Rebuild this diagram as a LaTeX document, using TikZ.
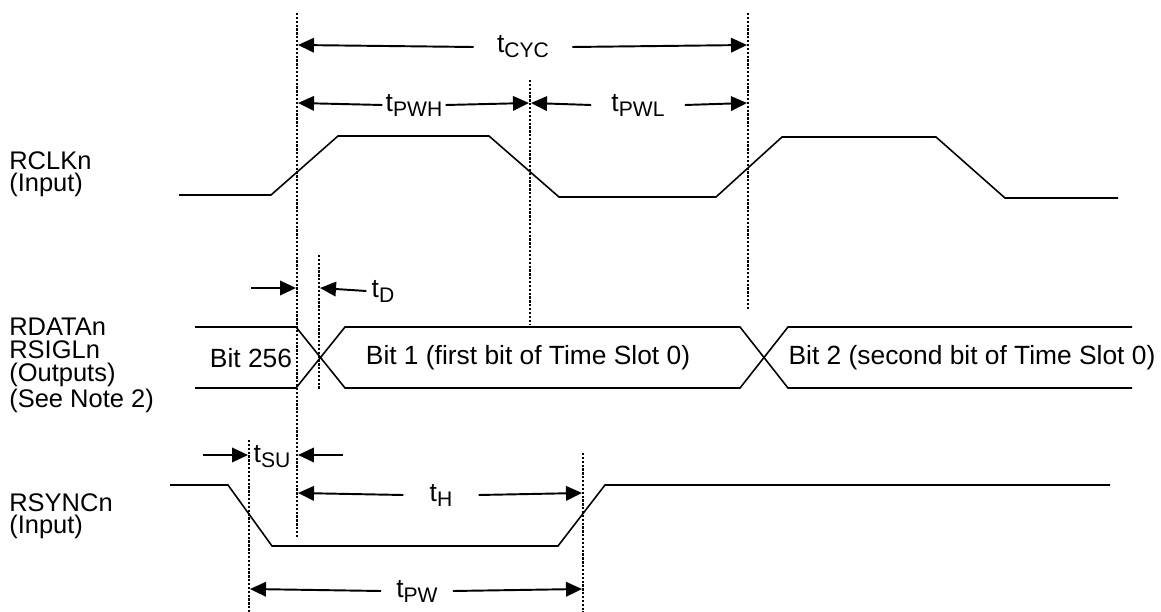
\documentclass[tikz,border=0pt]{standalone}
\usepackage{fontspec}
\setmainfont{Liberation Sans}
\usetikzlibrary{arrows.meta,positioning,calc}
\definecolor{ink}{RGB}{0,0,0}
\newcommand\tfont{\fontsize{15}{17}\selectfont}
\newcommand\sigfont{\fontsize{14.5}{13}\selectfont}
\newcommand\tsub[1]{t\raisebox{-0.36ex}{\fontsize{12}{12}\selectfont #1}}
\tikzset{
  wave/.style={line width=0.9pt,ink,line join=miter},
  guide/.style={line width=0.8pt,ink,dash pattern=on 1.3pt off 0.9pt},
  edgeguide/.style={guide,line width=1.7pt},
  span/.style={line width=1.1pt,ink,-{Triangle[length=0.32cm,width=0.29cm]}},
  sig/.style={font=\sigfont,align=left,anchor=north west,inner sep=0pt},
  tlabel/.style={font=\tfont,inner ysep=0pt,inner xsep=#1},
  tlabel/.default=0cm,
  bits/.style={font=\tfont,inner sep=0pt}
}
\begin{document}
\begin{tikzpicture}[x=0.02cm,y=-0.02cm]
  \useasboundingbox (0,0) rectangle (1161,612);

  % reference lines
  \draw[edgeguide] (297,13) -- (297,538);
  \draw[guide] (748,13) -- (748,310);
  \draw[guide] (530,80) -- (530,325);
  \draw[guide] (319,255) -- (319,390);
  \draw[guide] (249,440) -- (249,612);
  \draw[guide] (583,453) -- (583,612);

  % signal names
  \node[sig] (rclk) at (9,151) {RCLKn\\(Input)};
  \node[sig] (rdata) at (9,318) {RDATAn\\RSIGLn\\(Outputs)\\(See Note 2)};
  \node[sig] (rsync) at (9,493) {RSYNCn\\(Input)};

  % waveforms
  \draw[wave] (179,195) -- (271,195) -- (338,136) -- (489,136) -- (559,197)
    -- (716,197) -- (782,137) -- (936,137) -- (1005,198) -- (1118,198);
  \draw[wave] (195,327) -- (296,327) -- (345,388) -- (740,388) -- (788,327) -- (1132,327);
  \draw[wave] (195,388) -- (296,388) -- (345,327) -- (740,327) -- (788,388) -- (1132,388);
  \draw[wave] (170,485) -- (228,485) -- (272,546) -- (558,546) -- (605,485) -- (1110,485);

  \node[bits] (bit256) at (251,358) {Bit 256};
  \node[bits] (bit1) at (528,358) {Bit 1 (first bit of Time Slot 0)};
  \node[bits] (bit2) at (972,358) {Bit 2 (second bit of Time Slot 0)};

  % timing marks
  \coordinate (cycL) at (298,45);
  \coordinate (cycR) at (747,45);
  \coordinate (pwhL) at (298,103);
  \coordinate (pwhR) at (529,103);
  \coordinate (pwlL) at (531,103);
  \coordinate (pwlR) at (747,103);
  \coordinate (dIn) at (251,288);
  \coordinate (dL) at (296,288);
  \coordinate (dR) at (320,288);
  \coordinate (suIn) at (203,455);
  \coordinate (suL) at (248,455);
  \coordinate (suOut) at (343,455);
  \coordinate (suR) at (298,455);
  \coordinate (hL) at (298,493);
  \coordinate (hR) at (582,493);
  \coordinate (pwL) at (250,589);
  \coordinate (pwR) at (582,589);

  \node[tlabel=0.46cm] (cyc) at (523,47) {\tsub{CYC}};
  \node[tlabel=0.06cm] (pwh) at (414,105) {\tsub{PWH}};
  \node[tlabel=0.4cm] (pwl) at (638,105) {\tsub{PWL}};
  \node[tlabel=0.1cm] (td) at (383,291) {\tsub{D}};
  \node[tlabel] (tsu) at (272,457) {\tsub{SU}};
  \node[tlabel=0.52cm] (th) at (441,495) {\tsub{H}};
  \node[tlabel=0.3cm] (tpw) at (417,591) {\tsub{PW}};

  \draw[span] (cyc.west) -- (cycL);
  \draw[span] (cyc.east) -- (cycR);
  \draw[span] (pwh.west) -- (pwhL);
  \draw[span] (pwh.east) -- (pwhR);
  \draw[span] (pwl.west) -- (pwlL);
  \draw[span] (pwl.east) -- (pwlR);
  \draw[span] (dIn) -- (dL);
  \draw[span] (td.west) -- (dR);
  \draw[span] (suIn) -- (suL);
  \draw[span] (suOut) -- (suR);
  \draw[span] (th.west) -- (hL);
  \draw[span] (th.east) -- (hR);
  \draw[span] (tpw.west) -- (pwL);
  \draw[span] (tpw.east) -- (pwR);
\end{tikzpicture}
\end{document}
